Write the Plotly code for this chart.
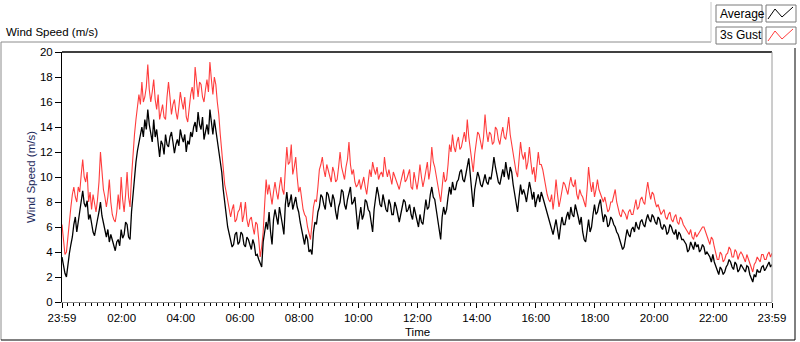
import plotly.graph_objects as go

# time axis: minutes after 23:59, one reading every 3 minutes (0 .. 1440)
minutes = list(range(0, 1441, 3))

average = [
    # 23:59 - 00:59
    3.6, 2.9, 2.3, 2.0, 3.2, 3.9, 4.6, 5.2, 6.2, 6.8, 5.6, 6.4, 7.0, 7.8, 8.9, 7.9, 7.6, 8.1, 6.6, 7.0,
    6.2, 5.6, 5.3, 6.1, 6.6, 7.2, 8.0, 6.9, 6.4, 5.8, 5.2, 5.8, 4.8, 5.4, 5.0, 4.4, 4.1, 4.8, 5.0, 4.5,
    5.8, 5.1, 5.4, 6.4, 6.2, 5.2, 5.0, 7.2, 8.6, 10.2, 11.2, 12.1, 12.8, 13.4, 14.0, 13.2, 14.6, 13.8, 15.4, 14.2,
    13.6, 12.8, 14.6, 13.2, 13.8, 12.6, 11.6, 12.9, 12.6, 11.8, 13.4, 12.6, 12.4, 13.2, 13.6, 12.8, 11.9, 12.6, 13.0, 12.5,
    13.8, 13.2, 12.8, 13.4, 12.0, 12.9, 12.6, 13.6, 13.2, 14.0, 14.4, 13.6, 15.2, 14.2, 13.8, 14.8, 13.0, 13.6, 14.2, 13.4,
    15.4, 14.4, 13.4, 14.6, 13.8, 13.0, 12.2, 11.4, 10.4, 9.0, 8.2, 7.0, 6.0, 5.4, 5.0, 4.4, 4.6, 5.4, 5.6, 4.6,
    4.8, 5.6, 5.4, 4.6, 4.4, 5.2, 5.0, 4.5, 4.2, 5.0, 4.6, 3.7, 3.8, 3.4, 3.0, 2.8, 4.8, 5.6, 6.4, 5.8,
    7.2, 5.6, 4.6, 6.6, 7.4, 6.8, 6.2, 7.6, 7.0, 6.2, 5.4, 7.8, 8.8, 7.6, 8.0, 8.6, 7.4, 7.9, 8.4, 7.6,
    7.2, 6.4, 5.8, 5.2, 4.6, 5.4, 5.0, 4.0, 4.2, 3.8, 5.6, 6.4, 6.2, 7.2, 7.6, 8.6, 8.4, 7.8, 7.4, 8.8,
    8.6, 8.0, 7.6, 8.6, 8.2, 7.2, 6.6, 7.6, 8.0, 9.0, 8.8, 7.8, 7.4, 8.2, 8.6, 9.2, 7.8, 8.0, 8.4, 7.2,
    5.8, 6.8, 7.6, 6.6, 7.0, 8.2, 8.0, 7.4, 7.2, 6.4, 5.6, 7.4, 8.2, 9.2, 8.6, 7.8, 7.6, 8.6, 8.0, 7.4,
    7.2, 8.2, 7.8, 7.0, 7.0, 8.0, 7.6, 6.8, 6.4, 7.0, 7.6, 8.2, 8.0, 7.2, 7.4, 7.8, 7.0, 6.6, 7.6, 7.0,
    6.6, 6.0, 7.0, 6.4, 6.2, 7.2, 8.2, 7.4, 7.6, 8.6, 9.2, 8.4, 8.2, 7.4, 6.6, 6.0, 5.0, 6.8, 7.6, 7.0,
    7.4, 8.4, 9.2, 8.6, 9.6, 9.0, 9.0, 9.6, 9.8, 10.4, 10.6, 9.8, 9.6, 10.2, 11.0, 11.5, 10.2, 9.0, 7.6, 9.0,
    9.6, 10.4, 10.0, 9.4, 9.2, 9.8, 10.2, 9.6, 9.4, 10.0, 9.8, 10.6, 11.6, 10.8, 10.0, 9.6, 9.4, 10.2, 10.6, 10.0,
    11.2, 10.4, 9.8, 10.8, 10.4, 9.4, 8.6, 8.0, 7.2, 8.4, 9.4, 8.6, 9.0, 8.6, 8.0, 8.8, 9.6, 9.0, 8.2, 8.8,
    7.6, 8.2, 8.6, 8.0, 8.8, 8.4, 8.0, 7.4, 7.0, 6.6, 6.2, 5.8, 5.4, 6.0, 6.6, 5.8, 5.0, 6.0, 6.8, 6.2,
    6.2, 6.8, 7.2, 6.6, 7.6, 7.0, 6.8, 7.8, 7.4, 6.8, 6.2, 6.8, 5.6, 5.0, 4.8, 5.8, 6.6, 5.6, 6.0, 7.0,
    7.8, 7.0, 7.2, 7.8, 8.2, 7.2, 6.4, 7.0, 6.8, 6.0, 6.2, 6.8, 6.6, 6.2, 6.0, 5.6, 5.4, 5.0, 4.6, 4.2,
    4.4, 5.2, 5.8, 5.4, 5.2, 5.8, 6.0, 5.6, 6.4, 6.0, 5.8, 6.4, 6.6, 6.2, 6.0, 6.6, 7.0, 6.6, 6.4, 7.0,
    6.8, 6.4, 6.2, 6.8, 6.6, 6.0, 5.8, 6.2, 6.0, 5.4, 5.6, 6.2, 6.0, 5.6, 5.4, 5.8, 5.0, 5.6, 5.4, 5.0,
    5.0, 4.8, 4.6, 4.0, 4.2, 4.8, 4.4, 4.2, 4.8, 4.4, 4.6, 4.0, 4.2, 4.6, 4.4, 3.8, 4.0, 3.8, 3.6, 3.2,
    3.8, 3.2, 2.8, 2.4, 2.2, 2.8, 2.6, 2.2, 2.4, 2.8, 3.0, 3.4, 3.2, 2.8, 2.6, 3.2, 3.0, 2.4, 2.6, 3.0,
    2.8, 2.6, 2.4, 2.9, 2.8, 2.2, 1.8, 1.6, 2.2, 2.0, 2.6, 2.4, 2.4, 2.8, 2.9, 2.5, 2.7, 3.0, 3.2, 2.8,
    3.0,
]

gust = [
    # 23:59 - 00:59
    6.2, 4.6, 3.8, 4.0, 5.2, 7.0, 7.6, 8.6, 9.2, 8.4, 8.0, 9.2, 8.8, 10.2, 11.4, 10.0, 9.6, 10.4, 8.0, 8.8,
    7.4, 8.6, 7.8, 7.2, 8.2, 9.6, 12.0, 10.4, 9.0, 8.4, 7.6, 8.4, 9.8, 8.0, 7.0, 6.6, 6.4, 7.2, 8.6, 7.4,
    10.0, 8.2, 7.2, 8.6, 10.4, 8.4, 7.6, 10.0, 12.0, 13.4, 14.6, 15.6, 16.6, 15.8, 17.6, 16.0, 16.4, 17.2, 19.0, 17.0,
    16.0, 16.8, 17.8, 16.2, 15.4, 16.6, 14.6, 15.2, 15.8, 14.8, 14.6, 16.4, 17.6, 16.4, 15.0, 15.8, 16.2, 15.2, 14.6, 15.6,
    16.8, 16.0, 15.4, 16.4, 14.8, 14.4, 15.6, 16.6, 17.2, 16.2, 18.8, 17.4, 16.4, 17.6, 17.4, 16.4, 16.0, 17.0, 17.8, 16.8,
    19.2, 17.8, 16.6, 18.0, 17.4, 16.0, 15.0, 13.4, 12.0, 10.4, 9.4, 8.8, 8.2, 7.4, 6.8, 7.4, 7.8, 6.4, 6.6, 7.2,
    7.4, 8.0, 6.4, 7.0, 8.0, 6.6, 6.0, 6.6, 6.8, 6.0, 5.4, 6.4, 6.2, 5.0, 3.6, 4.4, 5.6, 7.8, 9.8, 8.6,
    9.4, 8.6, 7.8, 8.8, 9.6, 8.8, 8.2, 9.2, 10.0, 9.0, 8.6, 10.6, 12.4, 11.0, 11.2, 12.6, 10.2, 10.8, 11.6, 10.0,
    8.8, 9.2, 8.0, 7.4, 7.0, 6.8, 6.0, 5.4, 5.0, 6.2, 7.6, 8.2, 8.0, 9.2, 10.6, 11.0, 11.6, 10.6, 10.0, 11.0,
    10.6, 10.0, 9.6, 10.8, 10.4, 9.6, 9.8, 10.8, 12.0, 10.8, 10.2, 9.8, 10.8, 11.4, 12.8, 11.0, 10.2, 10.6, 9.6, 9.2,
    9.4, 9.8, 9.0, 9.4, 10.0, 9.2, 8.6, 9.6, 10.6, 10.0, 11.2, 10.6, 10.2, 10.8, 9.8, 10.2, 10.4, 10.0, 11.6, 10.6,
    10.0, 10.6, 9.8, 9.4, 10.4, 10.0, 9.6, 9.2, 9.0, 9.6, 10.2, 10.6, 9.6, 9.8, 10.2, 10.6, 9.2, 9.0, 10.4, 9.6,
    9.0, 9.8, 11.0, 10.0, 9.2, 9.8, 10.4, 11.2, 9.8, 10.6, 12.4, 11.2, 10.8, 10.0, 9.4, 8.6, 8.0, 9.2, 10.4, 9.6,
    9.8, 11.0, 12.6, 12.0, 13.4, 12.4, 12.0, 12.8, 13.2, 12.2, 12.4, 13.0, 13.6, 12.8, 14.6, 13.2, 12.4, 11.4, 10.4, 11.8,
    12.6, 13.6, 13.4, 12.6, 12.2, 13.2, 15.0, 13.6, 12.8, 13.6, 13.4, 12.6, 12.8, 14.0, 13.8, 13.0, 12.6, 13.4, 14.0, 13.2,
    13.0, 13.8, 14.8, 13.4, 12.6, 11.8, 11.0, 10.4, 10.0, 11.6, 12.8, 11.8, 11.4, 12.0, 10.6, 11.2, 12.4, 11.2, 10.2, 10.8,
    9.6, 10.8, 12.0, 11.0, 11.0, 10.6, 9.8, 9.0, 8.6, 8.2, 8.0, 8.6, 7.4, 8.4, 9.8, 8.6, 7.6, 8.2, 8.8, 9.6,
    9.4, 9.0, 8.6, 9.4, 10.0, 9.4, 9.2, 9.8, 8.6, 8.2, 9.0, 8.6, 8.4, 8.0, 7.6, 9.0, 10.8, 9.6, 8.8, 9.6,
    8.4, 9.0, 9.8, 9.0, 8.6, 8.2, 8.0, 8.4, 7.6, 7.2, 7.4, 8.0, 8.0, 8.6, 9.0, 8.0, 7.4, 7.0, 6.8, 7.4,
    7.2, 7.0, 6.6, 7.2, 7.4, 7.0, 7.0, 7.8, 8.2, 7.4, 7.6, 8.2, 8.4, 8.0, 7.8, 8.8, 9.6, 8.8, 8.2, 8.8,
    8.6, 8.0, 7.6, 7.8, 7.4, 7.0, 7.2, 7.4, 6.8, 6.6, 7.0, 7.2, 6.6, 6.4, 6.8, 7.0, 6.4, 6.2, 6.8, 6.6,
    6.2, 6.0, 5.8, 5.6, 5.4, 5.8, 5.2, 5.0, 5.6, 5.2, 5.4, 5.6, 5.8, 6.0, 6.0, 5.6, 5.2, 4.8, 4.6, 5.2,
    5.0, 4.4, 3.8, 3.4, 3.4, 4.0, 3.8, 3.2, 3.4, 3.8, 3.9, 4.4, 4.2, 3.6, 3.6, 4.2, 4.0, 3.4, 3.8, 4.0,
    3.8, 3.4, 3.2, 3.8, 3.4, 3.0, 2.6, 2.4, 3.0, 3.2, 3.6, 3.4, 3.2, 3.8, 3.8, 3.4, 3.4, 3.8, 4.0, 3.6,
    3.9,
]

x_tick_vals = [0, 121, 241, 361, 481, 601, 721, 841, 961, 1081, 1201, 1321, 1440]
x_tick_text = ["23:59", "02:00", "04:00", "06:00", "08:00", "10:00", "12:00",
               "14:00", "16:00", "18:00", "20:00", "22:00", "23:59"]
y_tick_vals = [0, 2, 4, 6, 8, 10, 12, 14, 16, 18, 20]

# minor ticks: 10 equal intervals between major ticks
minor_vals = []
for a, b in zip(x_tick_vals[:-1], x_tick_vals[1:]):
    for k in range(1, 10):
        minor_vals.append(a + (b - a) * k / 10)

FONT = "Liberation Sans, Arial, sans-serif"
RED = "#ff3c3c"

fig = go.Figure()
fig.add_trace(go.Scatter(x=minutes, y=gust, mode="lines", name="3s Gust",
                         line=dict(color=RED, width=1.1), showlegend=False, hoverinfo="skip"))
fig.add_trace(go.Scatter(x=minutes, y=average, mode="lines", name="Average",
                         line=dict(color="#000000", width=1.3), showlegend=False, hoverinfo="skip"))

W, H = 800, 342
L, R, T, B = 62, 28, 52, 40

fig.update_layout(
    width=W, height=H,
    margin=dict(l=L, r=R, t=T, b=B, pad=0),
    paper_bgcolor="white", plot_bgcolor="white",
    font=dict(family=FONT, size=11.5, color="#000000"),
    xaxis=dict(
        range=[0, 1440], tickvals=x_tick_vals, ticktext=x_tick_text,
        showgrid=False, zeroline=False, showline=True, linecolor="#8c8c8c", linewidth=1,
        ticks="outside", ticklen=5, tickcolor="#000000", tickwidth=1,
        minor=dict(tickvals=minor_vals, ticks="outside", ticklen=3, tickcolor="#000000", tickwidth=1),
        tickfont=dict(family=FONT, size=11.5, color="#000000"),
    ),
    yaxis=dict(
        range=[0, 20], tickvals=y_tick_vals,
        showgrid=False, zeroline=False, showline=True, linecolor="#000000", linewidth=1,
        ticks="outside", ticklen=6, tickcolor="#000000", tickwidth=1,
        tickfont=dict(family=FONT, size=11.5, color="#000000"),
    ),
)

shapes = [
    # plot frame top (dark) and right (light)
    dict(type="line", xref="paper", yref="paper", x0=0, x1=1, y0=1, y1=1,
         line=dict(color="#000000", width=1.5)),
    dict(type="line", xref="paper", yref="paper", x0=1, x1=1, y0=0, y1=1,
         line=dict(color="#9a9a9a", width=1)),
]

pw, ph = W - L - R, H - T - B
def px(xp):
    return (xp - L) / pw
def py(yp):
    return (H - B - yp) / ph

# outer frame of the graph panel
frame_col = "#8c8c8c"
shapes += [
    dict(type="line", xref="paper", yref="paper", x0=px(1), x1=px(711), y0=py(42), y1=py(42),
         line=dict(color=frame_col, width=1)),
    dict(type="line", xref="paper", yref="paper", x0=px(1), x1=px(1), y0=py(42), y1=py(340),
         line=dict(color=frame_col, width=1)),
    dict(type="line", xref="paper", yref="paper", x0=px(1), x1=px(795), y0=py(340), y1=py(340),
         line=dict(color="#000000", width=1)),
    dict(type="line", xref="paper", yref="paper", x0=px(795), x1=px(795), y0=py(48), y1=py(340),
         line=dict(color="#000000", width=1)),
    dict(type="line", xref="paper", yref="paper", x0=px(711), x1=px(711), y0=py(2), y1=py(42),
         line=dict(color="#c8c8c8", width=1)),
]

# legend boxes
annotations = []
legend_items = [("Average", "#000000", 5), ("3s Gust", RED, 27)]
for label, col, top in legend_items:
    shapes.append(dict(type="rect", xref="paper", yref="paper",
                       x0=px(716), x1=px(762), y0=py(top + 17), y1=py(top),
                       line=dict(color="#7a7a7a", width=1), fillcolor="white"))
    shapes.append(dict(type="rect", xref="paper", yref="paper",
                       x0=px(766), x1=px(796), y0=py(top + 17), y1=py(top),
                       line=dict(color="#7a7a7a", width=1), fillcolor="white"))
    pts = [(768, top + 14), (775, top + 4), (782, top + 12), (793, top + 2)]
    path = "M " + " L ".join(f"{px(a)},{py(b)}" for a, b in pts)
    shapes.append(dict(type="path", xref="paper", yref="paper", path=path,
                       line=dict(color=col, width=1)))
    annotations.append(dict(text=label, xref="paper", yref="paper", x=px(718), y=py(top + 8.5),
                            xanchor="left", yanchor="middle", showarrow=False,
                            font=dict(family=FONT, size=12, color="#000000")))

annotations += [
    dict(text="Wind Speed (m/s)", xref="paper", yref="paper", x=px(4), y=py(32),
         xanchor="left", yanchor="middle", showarrow=False,
         font=dict(family=FONT, size=11.5, color="#000000")),
    dict(text="Wind Speed (m/s)", xref="paper", yref="paper", x=px(31), y=0.5,
         xanchor="center", yanchor="middle", textangle=-90, showarrow=False,
         font=dict(family=FONT, size=11.5, color="#1e2a5c")),
    dict(text="Time", xref="paper", yref="paper", x=0.5, y=py(332),
         xanchor="center", yanchor="middle", showarrow=False,
         font=dict(family=FONT, size=11.5, color="#000000")),
]

fig.update_layout(shapes=shapes, annotations=annotations)
fig.write_html("out.html", config={"displayModeBar": False, "staticPlot": True},
               post_script="document.body.style.margin='0px';document.body.style.overflow='hidden';")
